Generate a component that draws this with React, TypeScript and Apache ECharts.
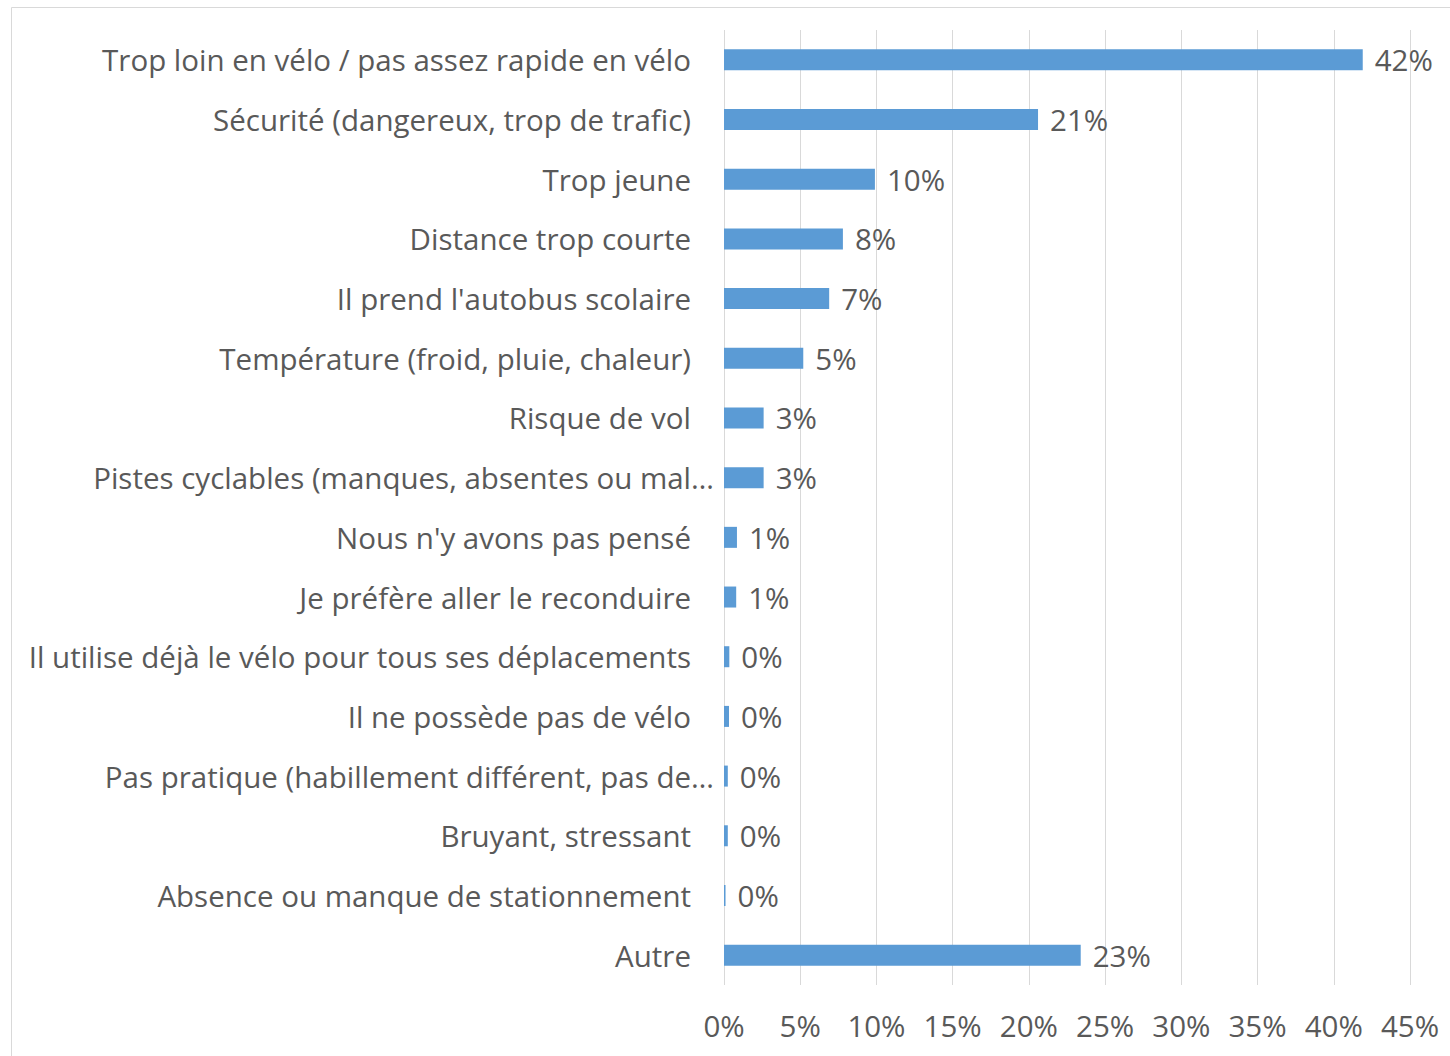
import React, { useEffect, useRef } from "react";
import * as echarts from "echarts";

const categories: string[] = [
  "Trop loin en vélo / pas assez rapide en vélo",
  "Sécurité (dangereux, trop de trafic)",
  "Trop jeune",
  "Distance trop courte",
  "Il prend l'autobus scolaire",
  "Température (froid, pluie, chaleur)",
  "Risque de vol",
  "Pistes cyclables (manques, absentes ou mal…",
  "Nous n'y avons pas pensé",
  "Je préfère aller le reconduire",
  "Il utilise déjà le vélo pour tous ses déplacements",
  "Il ne possède pas de vélo",
  "Pas pratique (habillement différent, pas de…",
  "Bruyant, stressant",
  "Absence ou manque de stationnement",
  "Autre",
];

const values: number[] = [41.9, 20.6, 9.9, 7.8, 6.9, 5.2, 2.6, 2.6, 0.85, 0.8, 0.35, 0.33, 0.25, 0.25, 0.1, 23.4];

const FONT = "Open Sans";
const FS = 29.5;
const TEXT = "#595959";

export default function App() {
  const ref = useRef<HTMLDivElement>(null);
  useEffect(() => {
    if (!ref.current) return;
    const chart = echarts.init(ref.current, undefined, { renderer: "svg" });
    chart.setOption({
      animation: false,
      backgroundColor: "#ffffff",
      graphic: [
        {
          type: "rect",
          shape: { x: 11.5, y: 7.5, width: 1460, height: 1070 },
          style: { fill: "none", stroke: "#d9d9d9", lineWidth: 1 },
          silent: true,
        },
      ],
      grid: { left: 724, right: 40, top: 30, bottom: 71, containLabel: false },
      xAxis: {
        type: "value",
        min: 0,
        max: 45,
        interval: 5,
        axisLine: { show: false },
        axisTick: { show: false },
        splitLine: { show: true, lineStyle: { color: "#d9d9d9", width: 1 } },
        axisLabel: {
          formatter: (v: number) => v + "%",
          color: TEXT,
          fontFamily: FONT,
          fontSize: FS,
          margin: 25,
        },
      },
      yAxis: {
        type: "category",
        inverse: true,
        data: categories,
        axisLine: { show: false },
        axisTick: { show: false },
        axisLabel: {
          margin: 10,
          formatter: (v: string) => (v.endsWith("…") ? `{b|${v}}` : `{a|${v}}`),
          rich: {
            a: { color: TEXT, fontFamily: FONT, fontSize: FS, padding: [0, 23, 0, 0] },
            b: { color: TEXT, fontFamily: FONT, fontSize: FS },
          },
        },
      },
      series: [
        {
          type: "bar",
          data: values,
          barWidth: 21,
          itemStyle: { color: "#5b9bd5" },
          label: {
            show: true,
            position: "right",
            distance: 12,
            color: TEXT,
            fontFamily: FONT,
            fontSize: FS,
            formatter: (p: any) => Math.round(p.value) + "%",
          },
        },
      ],
    });
    return () => chart.dispose();
  }, []);
  return <div ref={ref} style={{ position: "absolute", left: 0, top: 0, width: 1450, height: 1056 }} />;
}
